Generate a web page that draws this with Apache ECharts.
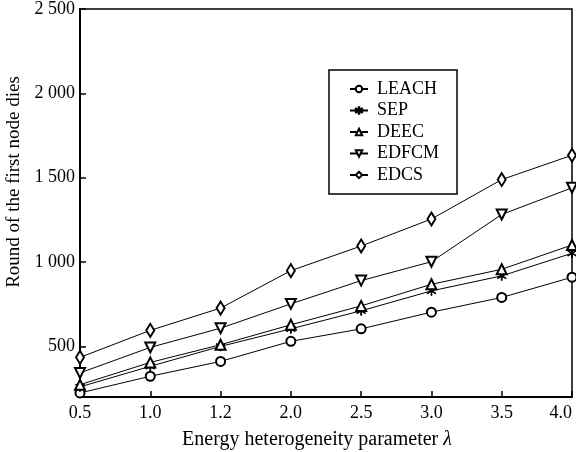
<!DOCTYPE html>
<html><head><meta charset="utf-8">
<script src="https://cdn.jsdelivr.net/npm/echarts@6/dist/echarts.min.js"></script>
<style>html,body{margin:0;padding:0;background:#fff}#c{width:576px;height:452px}</style>
</head><body><div id="c"></div>
<script>
const categories = ['0.5','1.0','1.2','2.0','2.5','3.0','3.5','4.0'];
const yTicks = [500,1000,1500,2000,2500];
const LEACH = [224,323,411,530,604,703,790,910];
const SEP   = [260,382,500,604,711,829,918,1052];
const DEEC  = [273,405,510,628,740,868,957,1101];
const EDFCM = [343,494,608,752,890,1002,1282,1440];
const EDCS  = [435,595,727,949,1095,1255,1489,1633];

const font = 'Liberation Serif';
const star = 'path://M-0.4,-5L0.4,-5L0.4,5L-0.4,5Z M3.98,-3.15L4.38,-2.46L-3.98,3.15L-4.38,2.46Z M-4.38,-2.46L-3.98,-3.15L4.38,2.46L3.98,3.15Z';
function mk(name, data, symbol, size, rot){
  return {name, type:'line', data, symbol, symbolSize:size, symbolRotate:rot||0,
    showAllSymbol:true, lineStyle:{color:'#000', width:1}, itemStyle:{color:'#000', borderColor:'#000', borderWidth:1},
    emphasis:{disabled:true}, animation:false, z:2};
}
const chart = echarts.init(document.getElementById('c'), null, {renderer:'canvas'});
chart.setOption({
  animation:false,
  backgroundColor:'#fff',
  grid:{left:80, right:4, top:9, bottom:55, outerBoundsMode:'none', containLabel:false, show:true, borderColor:'#000', borderWidth:1.5, backgroundColor:'transparent'},
  legend:{
    orient:'vertical', left:329, top:70, itemWidth:18, itemHeight:8, itemGap:3.5,
    padding:[10,18,10,20], borderColor:'#000', borderWidth:1.5, backgroundColor:'#fff',
    textStyle:{fontFamily:font, fontSize:18, color:'#000', padding:[0,0,0,4]},
    data:['LEACH','SEP','DEEC','EDFCM','EDCS']
  },
  xAxis:{type:'category', data:categories, boundaryGap:false,
    axisLine:{lineStyle:{color:'#000', width:2}},
    axisTick:{inside:true, length:6, alignWithLabel:true, lineStyle:{color:'#000', width:1.5}},
    axisLabel:{fontFamily:font, fontSize:18, color:'#000', margin:7, alignMaxLabel:'right'},
    name:'Energy heterogeneity parameter {i|λ}', nameLocation:'middle', nameGap:33,
    nameTextStyle:{fontFamily:font, fontSize:20, color:'#000', padding:[0,18,0,0], rich:{i:{fontFamily:font, fontSize:20, fontStyle:'italic', color:'#000'}}},
    splitLine:{show:false}},
  yAxis:{type:'value', min:200, max:2500,
    axisLine:{show:true, lineStyle:{color:'#000', width:2}},
    axisTick:{show:true, inside:true, length:6, customValues:yTicks, lineStyle:{color:'#000', width:1.5}},
    axisLabel:{fontFamily:font, fontSize:18, color:'#000', margin:5, customValues:yTicks,
      formatter:v=>{const s=String(v); return s.length>3? s.slice(0,s.length-3)+' '+s.slice(-3):s;}},
    splitLine:{show:false},
    name:'Round of the first node dies', nameLocation:'middle', nameGap:50,
    nameTextStyle:{fontFamily:font, fontSize:19, color:'#000', padding:[0,0,0,42]}},
  series:[
    mk('LEACH', LEACH, 'emptyCircle', 9),
    mk('SEP', SEP, star, 9),
    mk('DEEC', DEEC, 'emptyTriangle', 10),
    mk('EDFCM', EDFCM, 'emptyTriangle', 10, 180),
    mk('EDCS', EDCS, 'emptyDiamond', [8,13])
  ]
});
</script></body></html>
